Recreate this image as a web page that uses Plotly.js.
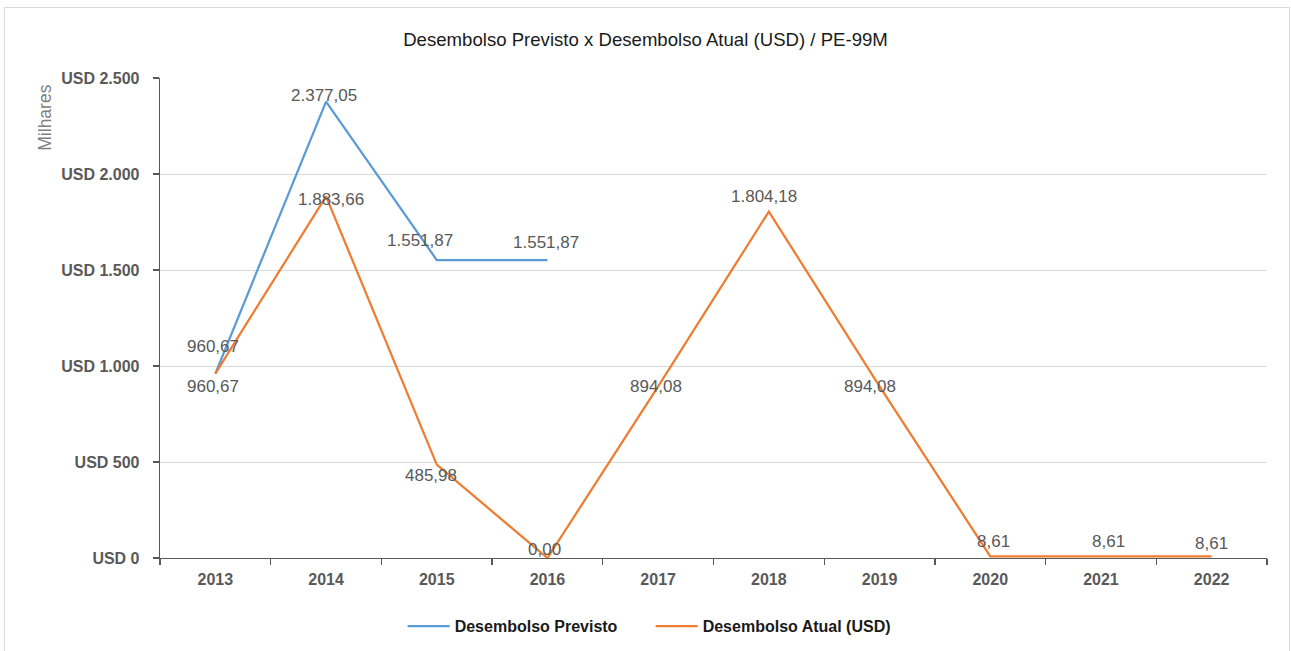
<!DOCTYPE html>
<html>
<head>
<meta charset="utf-8">
<script src="https://cdn.plot.ly/plotly-3.0.1.min.js"></script>
<style>
  html, body { margin: 0; padding: 0; background: #ffffff; }
  #frame { position: absolute; left: 4px; top: 7px; width: 1286px; height: 660px; border: 1px solid #d9d9d9; box-sizing: border-box; pointer-events: none; z-index: 5; }
  #chart { position: absolute; left: 0; top: 0; width: 1291px; height: 651px; }
</style>
</head>
<body>
<div id="chart"></div>
<div id="frame"></div>
<script>
// ---- data ----
const years = ['2013', '2014', '2015', '2016', '2017', '2018', '2019', '2020', '2021', '2022'];
const previstoYears = ['2013', '2014', '2015', '2016'];
const previstoValues = [960.67, 2377.05, 1551.87, 1551.87];
const atualValues = [960.67, 1883.66, 485.98, 0.00, 894.08, 1804.18, 894.08, 8.61, 8.61, 8.61];
const yTickValues = [0, 500, 1000, 1500, 2000, 2500];
const yTickLabels = ['USD 0', 'USD 500', 'USD 1.000', 'USD 1.500', 'USD 2.000', 'USD 2.500'];
const seriesNames = ['Desembolso Previsto', 'Desembolso Atual (USD)'];
const chartTitle = 'Desembolso Previsto x Desembolso Atual (USD) / PE-99M';
const unitLabel = 'Milhares';

// label offsets (style only)
const previstoShift = [[-2, 27], [-2, 6], [-17, 20], [-1, 18]];
const atualShift = [[-2, -13], [5, -3], [-6, -11], [-3, 9], [-2, 0], [-5, 15], [-10, 0], [3, 15], [8, 15], [0, 13]];

function fmt(v) {
  const parts = v.toFixed(2).split('.');
  const intPart = parts[0].replace(/\B(?=(\d{3})+(?!\d))/g, '.');
  return intPart + ',' + parts[1];
}

const FONT = 'Liberation Sans, Arial, sans-serif';
const labelFont = { family: FONT, size: 17, color: '#595959' };
const annotations = [];
previstoYears.forEach((yr, i) => {
  annotations.push({ x: years.indexOf(yr), y: previstoValues[i], xref: 'x', yref: 'y', text: fmt(previstoValues[i]),
    showarrow: false, font: labelFont, xshift: previstoShift[i][0], yshift: previstoShift[i][1] });
});
years.forEach((yr, i) => {
  annotations.push({ x: i, y: atualValues[i], xref: 'x', yref: 'y', text: fmt(atualValues[i]),
    showarrow: false, font: labelFont, xshift: atualShift[i][0], yshift: atualShift[i][1] });
});
annotations.push({ text: unitLabel, xref: 'paper', yref: 'paper', x: -0.104, y: 0.917, xanchor: 'center', yanchor: 'middle',
  textangle: -90, showarrow: false, font: { family: FONT, size: 17.5, color: '#7f7f7f' } });

const traces = [
  { type: 'scatter', mode: 'lines', name: seriesNames[0], x: previstoYears, y: previstoValues,
    line: { color: '#5B9BD5', width: 2.25 }, hoverinfo: 'x+y' },
  { type: 'scatter', mode: 'lines', name: seriesNames[1], x: years, y: atualValues,
    line: { color: '#ED7D31', width: 2.25 }, hoverinfo: 'x+y' }
];

const layout = {
  width: 1291, height: 651,
  margin: { l: 160, r: 24, t: 78, b: 93, autoexpand: false },
  paper_bgcolor: '#ffffff', plot_bgcolor: '#ffffff',
  title: { text: chartTitle, x: 0.5, xref: 'container', xanchor: 'center', y: 38, yref: 'container', yanchor: 'middle',
    font: { family: FONT, size: 18.6, color: '#1a1a1a' } },
  xaxis: {
    type: 'category', categoryorder: 'array', categoryarray: years, range: [-0.5, 9.5],
    showline: true, linecolor: '#595959', linewidth: 1.3,
    ticks: 'outside', tickson: 'boundaries', ticklen: 6, tickcolor: '#595959', tickwidth: 1.3,
    showgrid: false, zeroline: false,
    tickfont: { family: FONT, size: 16, color: '#595959', weight: 'bold' },
    ticklabelstandoff: 6
  },
  yaxis: {
    range: [0, 2500], tickvals: yTickValues, ticktext: yTickLabels,
    showline: true, linecolor: '#595959', linewidth: 1.3,
    ticks: 'outside', ticklen: 6, tickcolor: '#595959', tickwidth: 1.3,
    showgrid: true, gridcolor: '#d9d9d9', gridwidth: 1, zeroline: false,
    tickfont: { family: FONT, size: 16, color: '#595959', weight: 'bold' },
    ticklabelstandoff: 10
  },
  showlegend: true,
  legend: { orientation: 'h', x: 0.504, xref: 'container', xanchor: 'center', y: -0.142, yanchor: 'middle',
    itemwidth: 42, entrywidth: 191, entrywidthmode: 'pixels',
    font: { family: FONT, size: 16, color: '#1a1a1a', weight: 'bold' } },
  annotations: annotations
};

Plotly.newPlot('chart', traces, layout, { displayModeBar: false, staticPlot: true });
</script>
</body>
</html>
